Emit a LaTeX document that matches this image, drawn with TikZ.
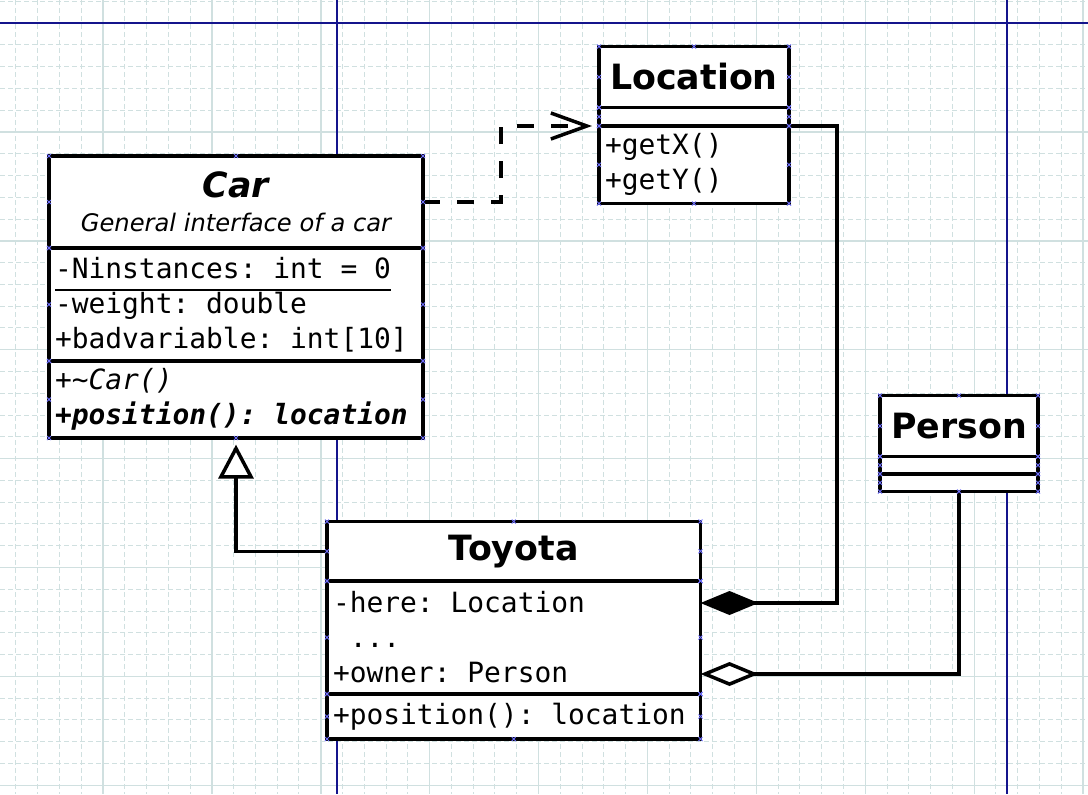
\documentclass[tikz,border=0pt]{standalone}
\usepackage{fontspec}
\setmainfont{DejaVu Sans}
\setmonofont{DejaVu Sans Mono}
\usetikzlibrary{positioning,arrows.meta,calc}

\definecolor{gridline}{RGB}{208,224,224}
\definecolor{pageline}{RGB}{20,20,140}
\definecolor{handle}{RGB}{110,110,250}

% fixed word spaces (no stretch, no shrink)
\DeclareRobustCommand\fixedspaces[1]{\frenchspacing\spaceskip#1\relax}

\tikzset{
  box/.style={draw, fill=white, line width=1.75pt, outer sep=0pt, inner xsep=3pt, inner ysep=0pt},
  classname/.style={box, align=center, font=\fontsize{17.4}{20}\selectfont\bfseries},
  classpart/.style={box, align=left, font=\ttfamily\fontsize{13.95}{17.5}\selectfont,
    execute at begin node=\fixedspaces{0.602em}},
  minorgrid/.style={gridline, line width=0.5pt, dash pattern=on 2.5pt off 1.5pt},
  majorgrid/.style={gridline, line width=0.7pt},
  connector/.style={line width=1.75pt},
  depends/.style={connector, dash pattern=on 8.5pt off 8.5pt, -{Straight Barb[length=18pt,width=13pt]}, shorten >=3.5pt},
  inherits/.style={connector, -{Triangle[fill=white,length=17pt,width=17.5pt]}, shorten >=3.3pt},
  composed/.style={connector, -{Diamond[length=29pt,width=12pt]}},
  aggregated/.style={connector, -{Diamond[fill=white,length=29pt,width=12pt]}},
  handlemark/.style={handle, line width=0.4pt}
}

\begin{document}
\begin{tikzpicture}[x=0.5pt, y=-0.5pt]
  \useasboundingbox (0,0) rectangle (1088,794);
  \fill[white] (0,0) rectangle (1088,794);

  % grid
  \foreach \i in {0,...,49}
    \draw[minorgrid] ({15.8+21.78*\i},0) -- ({15.8+21.78*\i},794);
  \foreach \i in {0,...,36}
    \draw[minorgrid] (0,{1.2+21.78*\i}) -- (1088,{1.2+21.78*\i});
  \foreach \i in {0,...,9}
    \draw[majorgrid] ({103+108.9*\i},0) -- ({103+108.9*\i},794);
  \foreach \i in {0,...,7}
    \draw[majorgrid] (0,{23+108.9*\i}) -- (1088,{23+108.9*\i});

  % page borders
  \draw[pageline, line width=0.6pt] (337,0) -- (337,794);
  \draw[pageline, line width=0.6pt] (1007,0) -- (1007,794);
  \draw[pageline, line width=0.6pt] (0,23) -- (1088,23);

  % Car
  \node[classname, minimum width=187pt, text width=181pt, minimum height=46pt] (cartitle) at (236,202)
    {\itshape Car\\[-3pt]{\fontsize{12.1}{14}\selectfont\mdseries\itshape\fixedspaces{0.318em}General interface of a car}};
  \node[classpart, below=0pt of cartitle, text width=181pt, minimum height=56.5pt] (carattr)
    {-Ninstances: int = 0\\-weight: double\\+badvariable: int[10]};
  \node[classpart, below=0pt of carattr, text width=181pt, minimum height=38.5pt] (carops)
    {{\itshape +\textasciitilde Car()}\\{\bfseries\itshape +position(): location}};
  \draw[line width=0.75pt] ($(carattr.north west)+(6,42)$) -- ++(336,0);

  % Location
  \node[classname, minimum width=95pt, text width=89pt, minimum height=30.5pt] (loctitle) at (694,77) {Location};
  \node[classpart, below=0pt of loctitle, text width=89pt, minimum height=9.25pt] (locattr) {};
  \node[classpart, below=0pt of locattr, text width=89pt, minimum height=38.75pt] (locops)
    {+getX()\\+getY()};

  % Person
  \node[classname, minimum width=79pt, text width=73pt, minimum height=30.5pt] (persontitle) at (959,426) {Person};
  \node[classpart, below=0pt of persontitle, text width=73pt, minimum height=8.75pt] (personattr) {};
  \node[classpart, below=0pt of personattr, text width=73pt, minimum height=8.75pt] (personops) {};

  % Toyota
  \node[classname, minimum width=186.75pt, text width=180.75pt, minimum height=29.75pt] (toytitle) at (513.75,551.25) {Toyota};
  \node[classpart, below=0pt of toytitle, text width=180.75pt, minimum height=56.5pt] (toyattr)
    {-here: Location\\\hphantom{.}...\\+owner: Person};
  \node[classpart, below=0pt of toyattr, text width=180.75pt, minimum height=22.5pt] (toyops)
    {+position(): location};

  \coordinate (toyhere) at ($(toyattr.north east)+(0,22)$);
  \coordinate (toyowner) at ($(toyattr.south east)+(0,-20)$);

  % relations
  \draw[depends] (cartitle.east) -- ++(78,0) |- (locops.north west);
  \draw[inherits] (toytitle.west) -| (carops.south);
  \draw[composed] (locops.north east) -- ++(48,0) |- (toyhere);
  \draw[aggregated] (personops.south) |- (toyowner);

  % connection handles
  \foreach \n in {cartitle,carattr,carops,loctitle,locattr,locops,persontitle,personattr,personops,toytitle,toyattr,toyops}
    \foreach \a in {north west,north east,south west,south east,west,east}
      \draw[handlemark] ($(\n.\a)+(-2,-2)$) -- ++(4,4) ($(\n.\a)+(-2,2)$) -- ++(4,-4);
  \foreach \n in {cartitle,loctitle,persontitle,toytitle}
    \draw[handlemark] ($(\n.north)+(-2,-2)$) -- ++(4,4) ($(\n.north)+(-2,2)$) -- ++(4,-4);
  \foreach \n in {carops,locops,personops,toyops}
    \draw[handlemark] ($(\n.south)+(-2,-2)$) -- ++(4,4) ($(\n.south)+(-2,2)$) -- ++(4,-4);
\end{tikzpicture}
\end{document}
